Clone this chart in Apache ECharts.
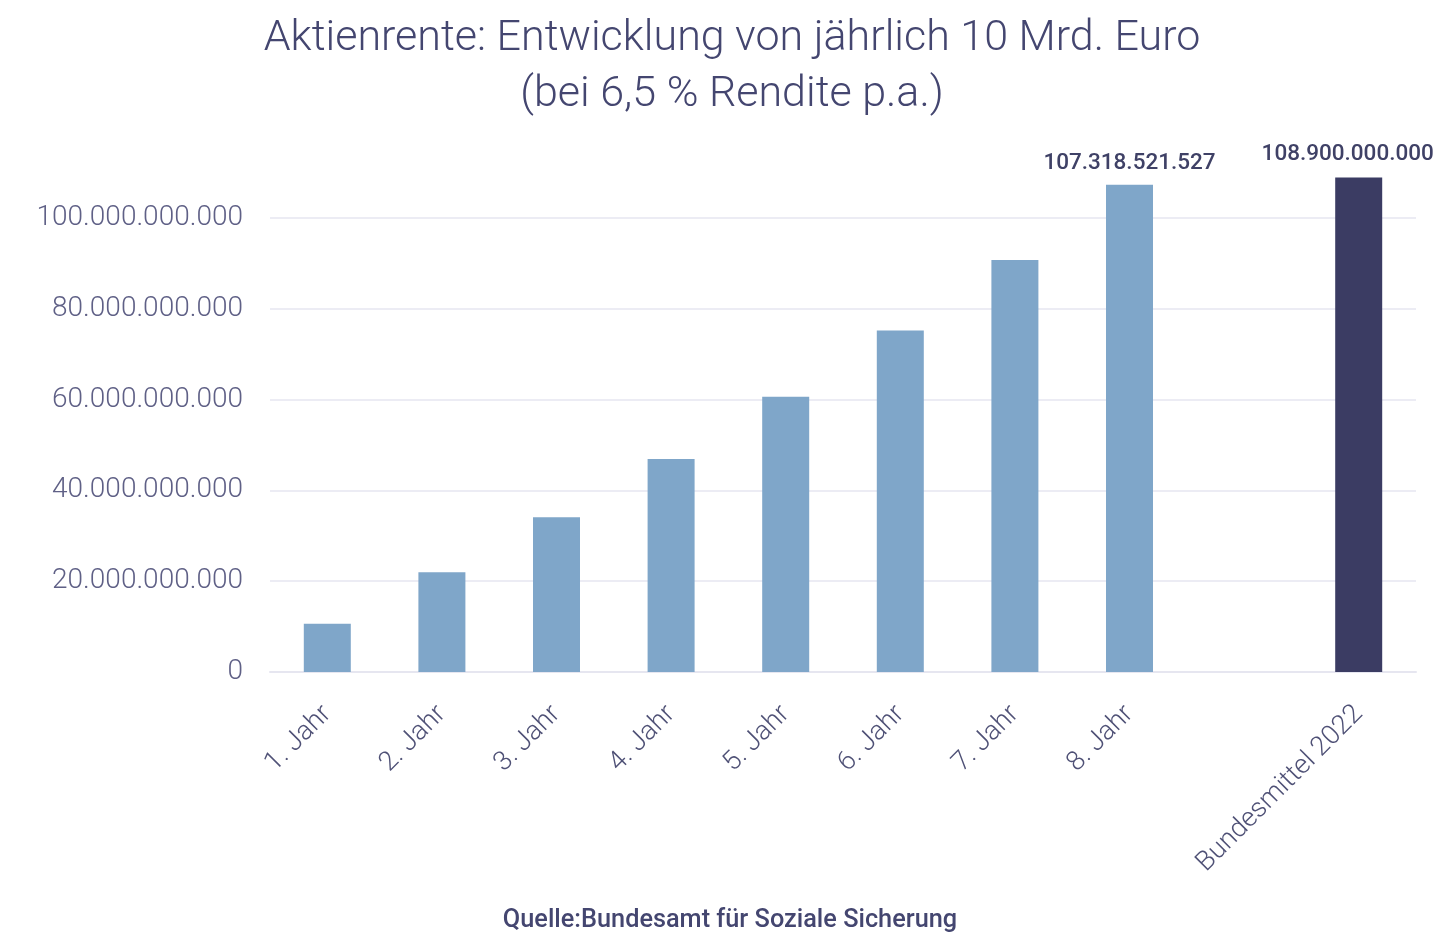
<!DOCTYPE html>
<html>
<head>
<meta charset="utf-8">
<script src="https://cdn.jsdelivr.net/npm/echarts@6/dist/echarts.min.js"></script>
<style>
html,body{margin:0;padding:0;background:#fff;}
#c{width:1439px;height:935px;}
</style>
</head>
<body>
<div id="c"></div>
<script>
const categories = ['1. Jahr','2. Jahr','3. Jahr','4. Jahr','5. Jahr','6. Jahr','7. Jahr','8. Jahr','','Bundesmittel 2022'];
const values = [10650000000, 21992250000, 34071746250, 46936409756, 60637276390, 75228699355, 90768564813, 107318521527, null, 108900000000];
const labelledIndices = [7, 9];
const yTicks = [0, 20000000000, 40000000000, 60000000000, 80000000000, 100000000000];
const titleLines = ['Aktienrente: Entwicklung von jährlich 10 Mrd. Euro', '(bei 6,5 % Rendite p.a.)'];
const sourceText = 'Quelle:Bundesamt für Soziale Sicherung';

const lightColor = '#7fa6c9';
const darkColor = '#3b3c63';
const textColor = '#444670';

function fmt(v){
  return String(Math.round(v)).replace(/\B(?=(\d{3})+(?!\d))/g, '.');
}

const chart = echarts.init(document.getElementById('c'));
chart.setOption({
  animation: false,
  backgroundColor: '#fff',
  title: [{
    text: titleLines.join('\n'),
    left: 727,
    textAlign: 'center',
    top: 6,
    textStyle: {fontFamily: 'Roboto', fontWeight: 300, fontSize: 43, color: textColor, lineHeight: 56}
  },{
    text: sourceText,
    left: 725,
    textAlign: 'center',
    top: 903,
    textStyle: {fontFamily: 'Roboto', fontWeight: 500, fontSize: 25.3, color: textColor}
  }],
  grid: {left: 270, right: 23, top: 172.6, bottom: 263, containLabel: false},
  xAxis: {
    type: 'category',
    data: categories,
    axisLine: {show: true, lineStyle: {color: '#e6e6f0', width: 2}},
    axisTick: {show: false},
    axisLabel: {rotate: 45, fontFamily: 'Roboto', fontWeight: 300, fontSize: 27, color: '#4f5176', margin: 38, interval: 0}
  },
  yAxis: {
    type: 'value',
    min: 0,
    max: 110000000000,
    interval: 20000000000,
    axisLine: {show: false},
    axisTick: {show: false},
    splitLine: {show: true, showMaxLine: false, lineStyle: {color: '#ececf4', width: 2}},
    axisLabel: {
      fontFamily: 'Roboto', fontWeight: 300, fontSize: 28, color: '#5f6086', margin: 27, showMaxLabel: false,
      formatter: function(v){ return yTicks.indexOf(v) >= 0 ? fmt(v) : ''; }
    }
  },
  series: [{
    type: 'bar',
    barWidth: 47,
    data: values.map(function(v, i){
      return {
        value: v === null ? '-' : v,
        itemStyle: {color: i === values.length - 1 ? darkColor : lightColor},
        label: {
          show: labelledIndices.indexOf(i) >= 0,
          position: 'top',
          distance: i === values.length - 1 ? 12 : 10,
          offset: i === values.length - 1 ? [-11, 0] : [0, 0],
          formatter: function(p){ return fmt(p.value); },
          fontFamily: 'Roboto', fontWeight: 500, fontSize: 22.5, color: '#3f4166'
        }
      };
    })
  }]
});
</script>
</body>
</html>
